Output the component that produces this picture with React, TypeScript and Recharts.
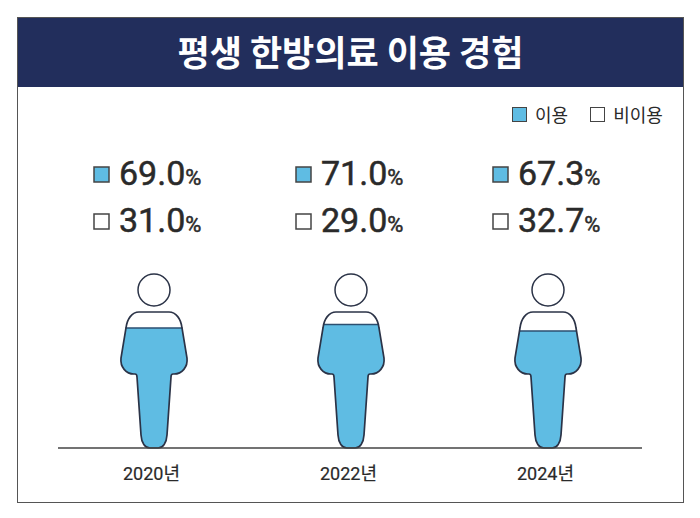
import { BarChart, Bar, XAxis, YAxis, Legend, LabelList } from "recharts";

const years = ["2020년", "2022년", "2024년"];
const usedValues = [69.0, 71.0, 67.3];
const unusedValues = [31.0, 29.0, 32.7];

const chartData = years.map((year, i) => ({
  year,
  이용: usedValues[i],
  비이용: unusedValues[i]
}));

const FONT = "Roboto, 'Noto Sans CJK KR', sans-serif";
const KR_FONT = "'Noto Sans CJK KR', sans-serif";
const NAVY = "#222e5c";
const BLUE = "#5fbce3";
const OUTLINE = "#2b3347";
const TEXT = "#2a2a2a";
// where the swatch of each label group starts, relative to the figure's centre
const labelShift = [-60, -55, -55];

// outline of the figure, drawn for a figure 174 units tall, baseline at 0
const bodyPath = (cx: number, base: number, k: number) => {
  const p = (dx: number, dy: number) => `${cx + dx * k} ${base + dy * k}`;
  return [
    `M${p(-15, -136)}`,
    `C${p(-22, -136)} ${p(-27, -129)} ${p(-28, -120)}`,
    `L${p(-33, -90)}`,
    `C${p(-34, -81)} ${p(-28, -74)} ${p(-20, -74)}`,
    `L${p(-19, -74)}`,
    `Q${p(-17, -74)} ${p(-17, -71)}`,
    `L${p(-13, -13)}`,
    `C${p(-12.5, -5)} ${p(-9, 0)} ${p(-4, 0)}`,
    `L${p(4, 0)}`,
    `C${p(9, 0)} ${p(12.5, -5)} ${p(13, -13)}`,
    `L${p(17, -71)}`,
    `Q${p(17, -74)} ${p(19, -74)}`,
    `L${p(20, -74)}`,
    `C${p(28, -74)} ${p(34, -81)} ${p(33, -90)}`,
    `L${p(28, -120)}`,
    `C${p(27, -129)} ${p(22, -136)} ${p(15, -136)}`,
    "Z"
  ].join(" ");
};

const UsedShape = (props: any) => {
  const { x, y, width, height, index, background } = props;
  const cx = x + width / 2;
  const k = background.height / 174;
  const id = `used-clip-${index}`;
  return (
    <g>
      <defs>
        <clipPath id={id}>
          <path d={bodyPath(cx, y + height, k)} />
        </clipPath>
      </defs>
      <g clipPath={`url(#${id})`}>
        <rect x={cx - 40} y={y} width={80} height={height} fill={BLUE} />
        <line x1={cx - 40} x2={cx + 40} y1={y} y2={y} stroke="#2c4f70" strokeWidth={1.5} />
      </g>
    </g>
  );
};

const UnusedShape = (props: any) => {
  const { x, width, background } = props;
  const cx = x + width / 2;
  const base = background.y + background.height;
  const k = background.height / 174;
  return (
    <g>
      <path d={bodyPath(cx, base, k)} fill="none" stroke={OUTLINE} strokeWidth={1.7} />
      <circle cx={cx} cy={base - 158 * k} r={16 * k} fill="#fff" stroke={OUTLINE} strokeWidth={1.5} />
    </g>
  );
};

const makeValueLabel = (values: number[], fill: string, baseline: number) => (props: any) => {
  const { x, width, index } = props;
  const left = x + width / 2 + labelShift[index];
  return (
    <g>
      <rect
        x={left}
        y={baseline - 18}
        width={15}
        height={15}
        fill={fill}
        stroke="#444"
        strokeWidth={1.5}
      />
      <text
        x={left + 25}
        y={baseline}
        fontFamily={FONT}
        fill={TEXT}
        stroke={TEXT}
        strokeWidth={0.5}
        fontSize={34}
      >
        {values[index].toFixed(1)}
        <tspan fontSize={22}>%</tspan>
      </text>
    </g>
  );
};

const LegendBox = ({ payload }: any) => (
  <div style={{ display: "flex", gap: 22, fontFamily: KR_FONT, fontSize: 18, color: TEXT }}>
    {(payload || []).map((item: any) => (
      <div key={item.value} style={{ display: "flex", alignItems: "center", gap: 8 }}>
        <span
          style={{
            width: 15,
            height: 15,
            boxSizing: "border-box",
            background: item.color,
            border: "1.5px solid #444"
          }}
        />
        {item.value}
      </div>
    ))}
  </div>
);

const YearTick = ({ x, y, payload }: any) => (
  <text
    x={x - 2}
    y={y + 24}
    textAnchor="middle"
    fontFamily={FONT}
    fontSize={18}
    fill={TEXT}
    stroke={TEXT}
    strokeWidth={0.2}
  >
    {payload.value}
  </text>
);

const App = () => {
  return (
    <div style={{ position: "absolute", left: 0, top: 0, width: 700, height: 518, background: "#fff" }}>
      <div
        style={{
          position: "absolute",
          left: 17,
          top: 17,
          width: 667,
          height: 486,
          boxSizing: "border-box",
          border: "1.5px solid #555"
        }}
      >
        <div
          style={{
            height: 69,
            background: NAVY,
            color: "#fff",
            fontFamily: KR_FONT,
            fontWeight: 700,
            fontSize: 35,
            lineHeight: "66px",
            textAlign: "center"
          }}
        >
          평생 한방의료 이용 경험
        </div>
      </div>
      <div style={{ position: "absolute", left: 0, top: 0 }}>
        <BarChart
          width={700}
          height={518}
          data={chartData}
          margin={{ top: 274, right: 58, bottom: 40, left: 58 }}
          barSize={70}
        >
          <XAxis
            dataKey="year"
            height={30}
            padding={{ left: -3, right: -4 }}
            tickLine={false}
            axisLine={{ stroke: "#444", strokeWidth: 1.5 }}
            tick={<YearTick />}
          />
          <YAxis hide domain={[0, 100]} />
          <Legend
            layout="horizontal"
            align="center"
            verticalAlign="middle"
            itemSorter={null}
            content={<LegendBox />}
            wrapperStyle={{ left: 512, top: 101, width: 170 }}
          />
          <Bar
            dataKey="이용"
            stackId="a"
            fill={BLUE}
            shape={<UsedShape />}
            isAnimationActive={false}
          >
            <LabelList content={makeValueLabel(usedValues, BLUE, 185)} />
          </Bar>
          <Bar
            dataKey="비이용"
            stackId="a"
            fill="#fff"
            shape={<UnusedShape />}
            isAnimationActive={false}
          >
            <LabelList content={makeValueLabel(unusedValues, "#fff", 232)} />
          </Bar>
        </BarChart>
      </div>
    </div>
  );
};

export default App;
